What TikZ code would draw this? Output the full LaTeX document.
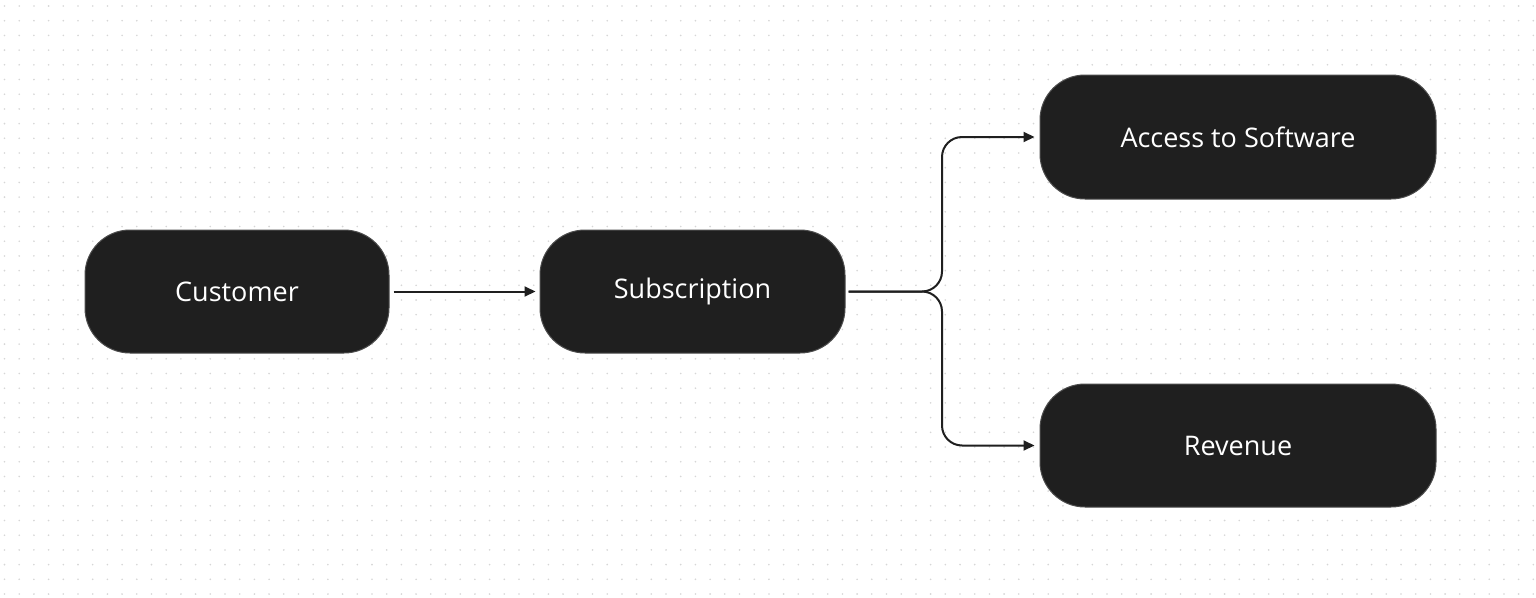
\documentclass[tikz,border=0pt]{standalone}
\usepackage{fontspec}
\setmainfont{Open Sans}
\usetikzlibrary{arrows.meta}
\definecolor{boxfill}{HTML}{1F1F1F}
\definecolor{dotc}{HTML}{D6D6D6}
\begin{document}
\begin{tikzpicture}[x=1pt,y=-1pt,
  box/.style={draw=boxfill!80!white,line width=1pt,fill=boxfill,rounded corners=45pt,text=white,font=\fontsize{27}{30}\selectfont,inner sep=0pt},
  conn/.style={draw=boxfill,line width=2pt,-{Triangle[length=11pt,width=10pt]}}]
\useasboundingbox (0,0) rectangle (1536,597);
\fill[white] (0,0) rectangle (1536,597);
\foreach \i in {0,...,104}{\foreach \j in {0,...,40}{
  \fill[dotc] (4.5+\i*14.7,6+\j*14.7) circle (0.9pt);}}
\node[box,minimum width=304pt,minimum height=123pt] (cust) at (237,291.5) {Customer};
\node[box,minimum width=305pt,minimum height=123pt] (sub) at (692.5,291.5) {Subscription};
\node[box,minimum width=396pt,minimum height=124pt] (acc) at (1238,137) {Access to Software};
\node[box,minimum width=396pt,minimum height=123pt] (rev) at (1238,445.5) {Revenue};
\coordinate (split) at (942,291.5);
\draw[conn] ([xshift=4pt]cust.east) -- ([xshift=-4pt]sub.west);
\draw[conn,rounded corners=20pt] ([xshift=3pt]sub.east) -- (split) |- ([xshift=-5pt]acc.west);
\draw[conn,rounded corners=20pt] ([xshift=3pt]sub.east) -- (split) |- ([xshift=-5pt]rev.west);
\end{tikzpicture}
\end{document}
